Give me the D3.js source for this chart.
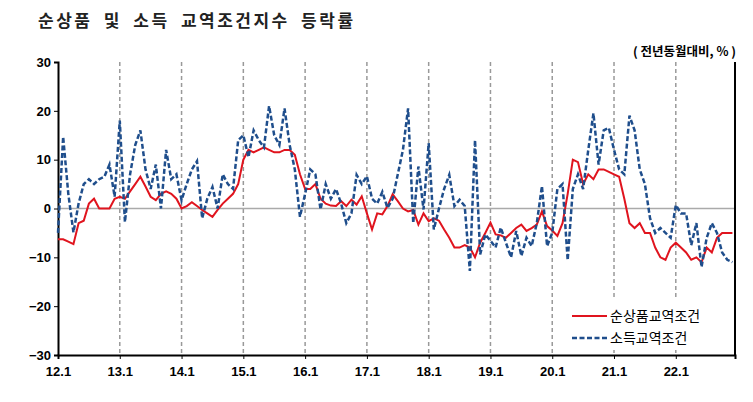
<!DOCTYPE html><html><head><meta charset="utf-8"><script src="https://cdn.jsdelivr.net/npm/d3@7"></script>
<style>body{margin:0;background:#fff;font-family:"Noto Sans CJK KR","Noto Sans",sans-serif}</style></head><body><svg id="c" width="753" height="402"></svg>
<script>
const yearLabels=["12.1","13.1","14.1","15.1","16.1","17.1","18.1","19.1","20.1","21.1","22.1"];
const yTicks=[30,20,10,0,-10,-20,-30];
const seriesNames=["순상품교역조건","소득교역조건"];
const netTerms=[
-6.3,-6.3,-6.8,-7.3,-3,-2.5,1,2,0,0,0,2,
2.4,2,3.5,5,6.5,4.5,2.4,1.7,3,3.5,3,2,
0,0.5,1.3,0.5,-0.3,-1,-1.7,-0.3,1,2,3,5,
10,12,11.5,12,12.5,12,11.5,11.5,12,12,11,7,
4,4,5,2,1,0.6,0.5,1.5,0.5,1.8,0.8,2.5,
-1,-4.3,-1,-1.2,0.5,2.9,1.5,0,-0.6,-0.3,-3.3,-1,
-2.6,-2,-2.5,-4.3,-6,-8,-8,-7.5,-8,-10,-7,-5,
-2.9,-5.3,-5.5,-6,-5,-4,-3.3,-4.6,-4,-3.3,-0.6,-3.6,
-4.5,-5.6,-3,3,10,9.5,5,7,6,8,8,7.5,
7,6.5,2,-3,-4,-3,-5,-5,-8,-10,-10.5,-8,
-7,-8,-9,-10.5,-10,-11,-8,-9,-6,-5,-5,-5];
const incomeTerms=[
-5,14.7,3,-4.9,1,5,6,5,6,6.5,9,2.4,
18,-2.8,7,13,16,8,4,9,0,12,6,7,
1.7,5,8,9.7,-2,2,4.4,0,7,5,4,14,
15,10.5,16,14,12.5,21,15,13,20.5,13,8,-1.7,
3,8,7,-0.2,5,2,4,1,-3,-1,6.9,5,
6.6,2,1,3.4,0.1,2,7,12,20.5,-3,8.6,-0.2,
13.4,-4.3,0,4,6.9,0.5,1.8,0.5,-12.8,14,-9.4,-5.3,
-6.6,-8,-3.9,-7,-10,-4.6,-9.7,-6,-7.7,-3,4.6,-7.7,
-5,4,5,-10.6,4,7,4,12,19.5,9,16,16.5,
12,8,7,19,16,8,5,-2,-5,-4,-5,-6,
0.7,-1,-1,-7.5,-3,-12,-6,-3,-5,-9,-10.5,-11];
const svg=d3.select("#c");
const L=58,R=735,T=62,B=355;
const x=d3.scaleLinear().domain([0,131.5]).range([L,R]);
const y=d3.scaleLinear().domain([-30,30]).range([B,T]);
svg.append("text").attr("x",38).attr("y",27).attr("font-size",17).attr("font-weight","bold").attr("letter-spacing",2.5).attr("word-spacing",5).attr("fill","#222").text("순상품 및 소득 교역조건지수 등락률");
svg.append("text").attr("x",736).attr("y",56).attr("text-anchor","end").attr("font-size",12.5).attr("font-weight","bold").text("( 전년동월대비, % )");
yearLabels.forEach((t,i)=>{ if(i>0) svg.append("line").attr("x1",x(i*12)).attr("x2",x(i*12)).attr("y1",T).attr("y2",B).attr("stroke","#999").attr("stroke-width",1.5).attr("stroke-dasharray","4,3");});
svg.append("line").attr("x1",L).attr("x2",R).attr("y1",y(0)).attr("y2",y(0)).attr("stroke","#aaa").attr("stroke-width",1.5);
const ya=d3.axisLeft(y).tickValues(yTicks).tickSize(4).tickFormat(d3.format("d"));
const g=svg.append("g").attr("transform",`translate(${L},0)`).call(ya);
g.selectAll("text").attr("font-size",13).attr("font-weight","bold").attr("fill","#000").attr("font-family","Liberation Sans,Arial");
g.select(".domain").attr("stroke-width",2);
const xa=d3.axisBottom(x).tickValues(yearLabels.map((d,i)=>i*12)).tickFormat((d,i)=>yearLabels[i]).tickSize(4);
const gx=svg.append("g").attr("transform",`translate(0,${B})`).call(xa);
gx.selectAll("text").attr("font-size",13).attr("font-weight","bold").attr("fill","#000").attr("dy","1.1em").attr("font-family","Liberation Sans,Arial");
gx.select(".domain").attr("stroke-width",2);
svg.append("line").attr("x1",R).attr("x2",R).attr("y1",T).attr("y2",B).attr("stroke","#000").attr("stroke-width",2);
const line=d3.line().x((d,i)=>x(i)).y(d=>y(d));
svg.append("path").datum(netTerms).attr("d",line).attr("fill","none").attr("stroke","#e0141e").attr("stroke-width",2);
svg.append("path").datum(incomeTerms).attr("d",line).attr("fill","none").attr("stroke","#1f4e8c").attr("stroke-width",2.5).attr("stroke-dasharray","5,2.5");
const lg=svg.append("g");
lg.append("rect").attr("x",565).attr("y",300).attr("width",165).attr("height",50).attr("fill","#fff");
[["#e0141e",null,2],["#1f4e8c","5,2.5",2.5]].forEach((s,i)=>{
 const yy=316+i*22;
 lg.append("line").attr("x1",572).attr("x2",607).attr("y1",yy).attr("y2",yy).attr("stroke",s[0]).attr("stroke-width",s[2]).attr("stroke-dasharray",s[1]);
 lg.append("text").attr("x",610).attr("y",yy+5).attr("font-size",14).attr("fill","#000").text(seriesNames[i]);
});
</script></body></html>
